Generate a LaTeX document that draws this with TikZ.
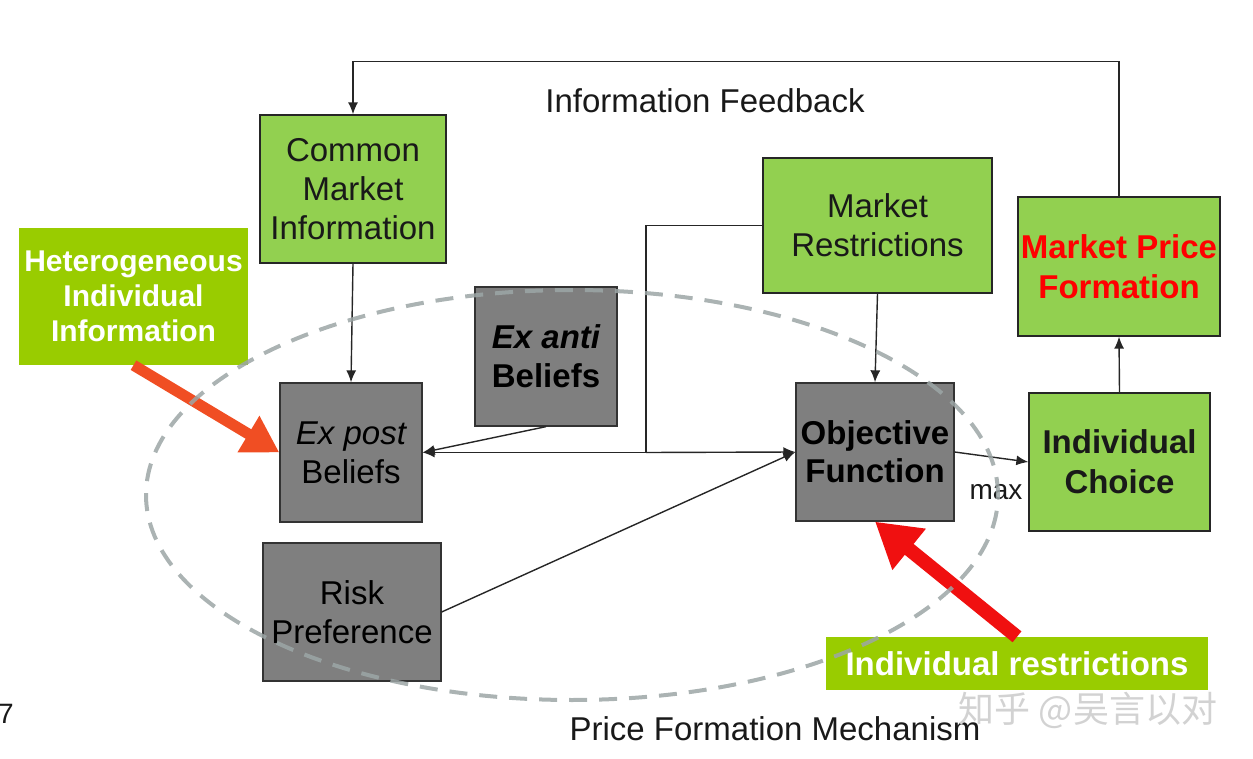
\documentclass[tikz,border=0pt]{standalone}
\usepackage{fontspec}
\setmainfont{Liberation Sans}
\newfontfamily\cjk{Noto Sans CJK SC}
\usetikzlibrary{arrows.meta}

\definecolor{boxgreen}{RGB}{146,208,80}
\definecolor{limegr}{RGB}{153,204,0}
\definecolor{boxgray}{RGB}{127,127,127}
\definecolor{ellgray}{RGB}{156,166,166}
\definecolor{orred}{RGB}{240,78,35}
\definecolor{pured}{RGB}{240,16,16}
\definecolor{mpfred}{RGB}{255,0,0}

\begin{document}
\begin{tikzpicture}[x=1pt,y=-1pt,
  every node/.style={inner sep=0pt, align=center, font=\fontsize{33}{39}\selectfont},
  greenbox/.style={draw=black!85, line width=1.3pt, fill=boxgreen, text=black!90},
  graybox/.style={draw=black!80, line width=1.3pt, fill=boxgray, text=black},
  limebox/.style={fill=limegr, text=white},
  conn/.style={draw=black!85, line width=1.4pt, -{Latex[length=12pt,width=10pt]}},
  plain/.style={draw=black!85, line width=1.4pt},
  bigarrow/.style={line width=11pt, -{Triangle[length=36pt,width=40pt]}},
  lbl/.style={text=black!90}
]
\path[use as bounding box] (0,0) rectangle (1253,759);

% boxes
\node[greenbox, minimum width=186pt, minimum height=148pt] (cmi) at (353,189) {Common\\Market\\Information};
\node[limebox, minimum width=229pt, minimum height=137pt, font=\fontsize{30}{35}\selectfont\bfseries] (hii) at (133.5,296.5) {Heterogeneous\\Individual\\Information};
\node[graybox, minimum width=142pt, minimum height=139pt] (expost) at (351,452.5) {\itshape Ex post\\Beliefs};
\node[graybox, minimum width=142pt, minimum height=139pt, font=\fontsize{33}{39}\selectfont\bfseries] (exanti) at (546,356.5) {\itshape Ex anti\\Beliefs};
\node[graybox, minimum width=178pt, minimum height=138pt] (risk) at (352,612) {Risk\\Preference};
\node[greenbox, minimum width=229pt, minimum height=135pt] (mr) at (877.5,225.5) {Market\\Restrictions};
\node[graybox, minimum width=158pt, minimum height=138pt, font=\fontsize{33}{38}\selectfont\bfseries] (obj) at (875,452) {Objective\\Function};
\node[greenbox, minimum width=202pt, minimum height=139pt, text=mpfred, font=\fontsize{33}{40}\selectfont\bfseries] (mpf) at (1119,266.5) {Market Price\\Formation};
\node[greenbox, minimum width=181pt, minimum height=138pt, font=\fontsize{33}{40}\selectfont\bfseries] (ic) at (1119.5,462) {Individual\\Choice};
\node[limebox, minimum width=382pt, minimum height=53pt, font=\fontsize{33}{38}\selectfont\bfseries] (ir) at (1017,663.5) {Individual restrictions};

% labels
\node[lbl] (fb) at (705,101) {Information Feedback};
\node[lbl] (pfm) at (775,729) {Price Formation Mechanism};
\node[lbl, font=\fontsize{28}{30}\selectfont] (mx) at (996,492) {max};
\node[lbl, font=\fontsize{28}{30}\selectfont] (pg) at (6,714) {7};
\node[text=gray!35, font=\cjk\fontsize{36}{36}\selectfont] (wm) at (1088,710) {知乎 @吴言以对};

% connectors
\draw[conn] (mpf.north) -- ++(0,-135) -| (cmi.north);
\draw[conn] (cmi.south) -- (expost.north);
\coordinate (jn) at (646,452.5);
\draw[plain] (mr.west) -| (jn);
\draw[conn] (jn) -- (expost.east);
\draw[conn] (jn) -- (obj.west);
\draw[conn] (exanti.south) -- (expost.east);
\draw[conn] (risk.east) -- (obj.west);
\draw[conn] (mr.south) -- (obj.north);
\draw[conn] (obj.east) -- (ic.west);
\draw[conn] (ic.north) -- (mpf.south);

% big arrows
\draw[bigarrow, draw=orred, fill=orred] (hii.south) -- (expost.west);
\draw[bigarrow, draw=pured, fill=pured, line width=14pt, -{Triangle[length=44pt,width=50pt]}] (ir.north) -- (obj.south);

% dashed ellipse
\draw[ellgray, line width=4pt, dash pattern=on 18pt off 12pt, opacity=0.85] (572,495) ellipse [x radius=426pt, y radius=205pt];
\end{tikzpicture}
\end{document}
